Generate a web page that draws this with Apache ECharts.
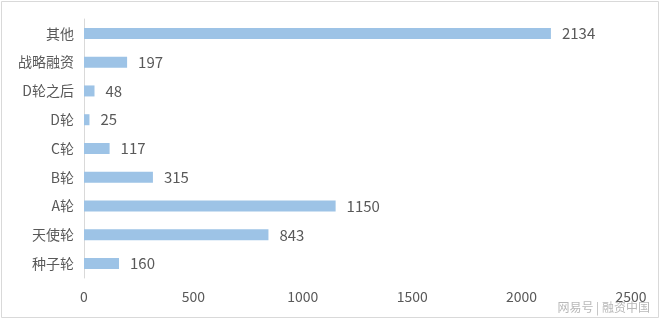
<!DOCTYPE html>
<html><head><meta charset="utf-8">
<script src="https://cdn.jsdelivr.net/npm/echarts@6/dist/echarts.min.js"></script>
<style>html,body{margin:0;padding:0;background:#fff}#c{width:660px;height:320px}</style>
</head><body><div id="c"></div>
<script>
const categories = ['种子轮','天使轮','A轮','B轮','C轮','D轮','D轮之后','战略融资','其他'];
const values = [160, 843, 1150, 315, 117, 25, 48, 197, 2134];
const xTicks = [0, 500, 1000, 1500, 2000, 2500];

const chart = echarts.init(document.getElementById('c'));
chart.setOption({
  animation: false,
  backgroundColor: '#fff',
  grid: {left: 84, right: 29, top: 19, bottom: 42},
  xAxis: {
    type: 'value', min: xTicks[0], max: xTicks[xTicks.length-1], interval: 500,
    axisLine: {show: false}, axisTick: {show: false}, splitLine: {show: false},
    axisLabel: {color: '#595959', fontSize: 14, margin: 12, fontFamily: 'Noto Sans CJK SC', formatter: v => String(v)}
  },
  yAxis: {
    type: 'category', data: categories,
    axisLine: {show: true, lineStyle: {color: '#d9d9d9', width: 1}},
    axisTick: {show: false},
    axisLabel: {color: '#595959', fontSize: 14, margin: 10, fontFamily: 'Noto Sans CJK SC'}
  },
  series: [{
    type: 'bar', data: values, barWidth: 11,
    itemStyle: {color: '#9dc3e6'},
    label: {show: true, position: 'right', distance: 11, color: '#595959', fontSize: 15, fontFamily: 'Noto Sans CJK SC'}
  }],
  graphic: [
    {type: 'rect', shape: {x: 1.5, y: 1.5, width: 657, height: 316}, style: {fill: 'none', stroke: '#d9d9d9', lineWidth: 1}, silent: true},
    {type: 'text', right: 10, bottom: 7, style: {text: '网易号 | 融资中国', fill: '#b8b8b8', fontSize: 12, fontFamily: 'Noto Sans CJK SC'}}
  ]
});
</script></body></html>
